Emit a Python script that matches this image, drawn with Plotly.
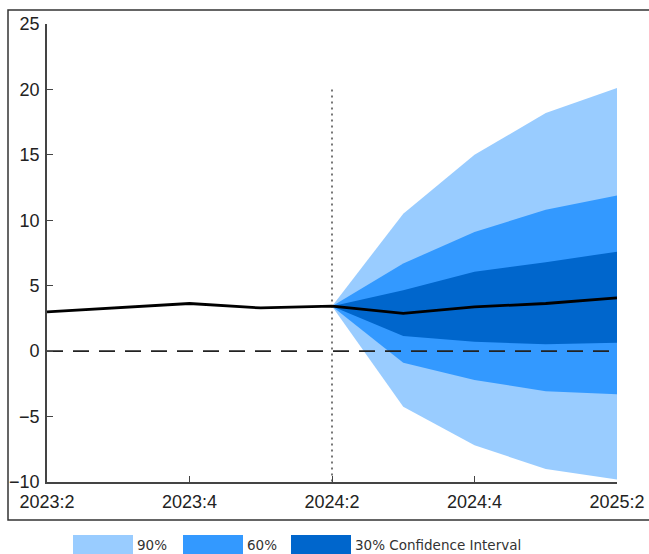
import plotly.graph_objects as go

quarters = ["2023:2", "2023:3", "2023:4", "2024:1", "2024:2", "2024:3", "2024:4", "2025:1", "2025:2"]
history = [3.0, 3.3, 3.64, 3.3, 3.44]
median_fc = [3.44, 2.88, 3.38, 3.64, 4.07]
upper90 = [3.44, 10.5, 15.0, 18.2, 20.1]
lower90 = [3.44, -4.25, -7.2, -9.0, -9.8]
upper60 = [3.44, 6.7, 9.1, 10.8, 11.9]
lower60 = [3.44, -0.89, -2.2, -3.06, -3.3]
upper30 = [3.44, 4.66, 6.06, 6.8, 7.6]
lower30 = [3.44, 1.15, 0.71, 0.53, 0.64]
tick_labels = ["2023:2", "2023:4", "2024:2", "2024:4", "2025:2"]
y_ticks = [25, 20, 15, 10, 5, 0, -5, -10]
band_names = ["90%", "60%", "30% Confidence Interval"]
band_colors = ["#99CCFF", "#3399FF", "#0066CC"]

xi = list(range(len(quarters)))
hist_x = xi[:len(history)]
fc_x = xi[len(history) - 1:]

fig = go.Figure()
for (up, lo), col, nm in zip([(upper90, lower90), (upper60, lower60), (upper30, lower30)], band_colors, band_names):
    fig.add_trace(go.Scatter(x=fc_x + fc_x[::-1], y=up + lo[::-1], fill="toself",
                             fillcolor=col, line=dict(width=0), mode="lines",
                             name=nm, showlegend=False, hoverinfo="skip"))

# zero dashed line
fig.add_trace(go.Scatter(x=[xi[0], xi[-1]], y=[0, 0], mode="lines",
                         line=dict(color="#222222", width=1.6, dash="16px,10px"),
                         showlegend=False, hoverinfo="skip"))
# vertical dotted line at forecast start
fig.add_trace(go.Scatter(x=[hist_x[-1], hist_x[-1]], y=[20, -10], mode="lines",
                         line=dict(color="#555555", width=1.6, dash="2px,4px"),
                         showlegend=False, hoverinfo="skip"))
# median line
fig.add_trace(go.Scatter(x=hist_x + fc_x[1:], y=history + median_fc[1:], mode="lines",
                         line=dict(color="black", width=2.8),
                         showlegend=False))

tick_font = dict(family="Liberation Sans, Arial, sans-serif", size=18, color="#222222")

fig.update_xaxes(range=[0, 8], tickmode="array", tickvals=[0, 2, 4, 6, 8], ticktext=tick_labels,
                 ticks="inside", ticklen=6, tickwidth=1.3, tickcolor="#444444",
                 showline=True, linecolor="#444444", linewidth=1.8, showgrid=False,
                 zeroline=False, tickfont=tick_font, ticklabelstandoff=2, automargin=False)
fig.update_yaxes(range=[-10, 25], tickmode="array", tickvals=y_ticks,
                 ticks="inside", ticklen=6, tickwidth=1.3, tickcolor="#444444",
                 showline=True, linecolor="#444444", linewidth=1.8, showgrid=False,
                 zeroline=False, tickfont=tick_font, ticklabelstandoff=2, automargin=False)

shapes = []
annotations = []
# outer frame
shapes.append(dict(type="rect", xref="paper", yref="paper", x0=(8 - 47) / 570, x1=1.2,
                   y0=(482 - 520) / 458, y1=(482 - 10) / 458,
                   line=dict(color="#333333", width=1.5), fillcolor="rgba(0,0,0,0)", layer="below"))
# manual legend
box_x = [73, 183, 291]
for bx, col, nm in zip(box_x, band_colors, band_names):
    shapes.append(dict(type="rect", xref="paper", yref="paper",
                       x0=(bx - 47) / 570, x1=(bx + 60 - 47) / 570,
                       y0=(482 - 554) / 458, y1=(482 - 535) / 458,
                       line=dict(width=0), fillcolor=col))
    annotations.append(dict(xref="paper", yref="paper", x=(bx + 62 - 47) / 570, y=(482 - 545) / 458,
                            text=nm, showarrow=False, xanchor="left", yanchor="middle",
                            font=dict(family="DejaVu Sans, Verdana, sans-serif", size=13.5, color="#333333")))

fig.update_layout(width=649, height=554, margin=dict(l=47, r=32, t=24, b=72),
                  plot_bgcolor="white", paper_bgcolor="white",
                  shapes=shapes, annotations=annotations, showlegend=False)

fig.write_html("out.html")
